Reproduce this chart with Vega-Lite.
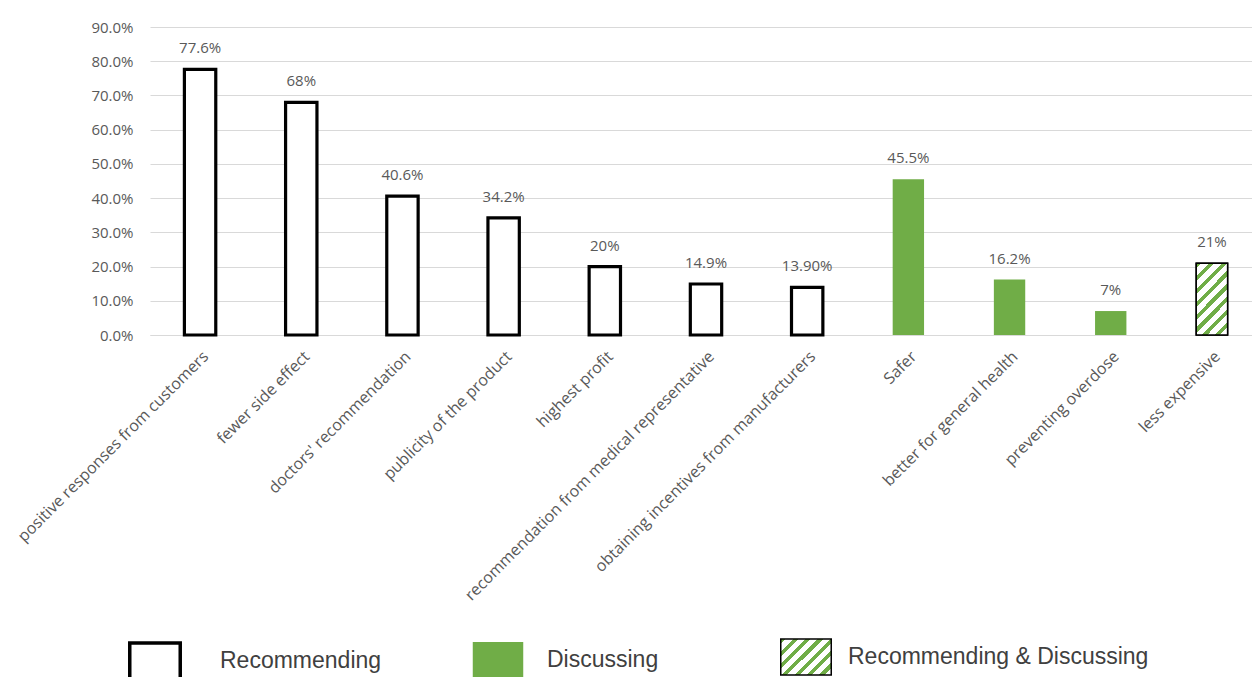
{
  "$schema": "https://vega.github.io/schema/vega-lite/v6.json",
  "width": 1112,
  "height": 308,
  "autosize": {"type": "none"},
  "padding": {"left": 150, "top": 27, "right": -10, "bottom": 342},
  "background": "white",
  "config": {"view": {"stroke": null}, "font": "Open Sans", "legend": {"labelFont": "Liberation Sans", "labelFontSize": 23, "labelColor": "#404040", "labelLimit": 500, "title": null, "symbolSize": 1300, "symbolOpacity": 1, "orient": "none"}},
  "data": {
    "values": [
      {"factor": "positive responses from customers", "pct": 0.776, "label": "77.6%", "type": "Recommending"},
      {"factor": "fewer side effect", "pct": 0.68, "label": "68%", "type": "Recommending"},
      {"factor": "doctors' recommendation", "pct": 0.406, "label": "40.6%", "type": "Recommending"},
      {"factor": "publicity of the product", "pct": 0.342, "label": "34.2%", "type": "Recommending"},
      {"factor": "highest profit", "pct": 0.20, "label": "20%", "type": "Recommending"},
      {"factor": "recommendation from medical representative", "pct": 0.149, "label": "14.9%", "type": "Recommending"},
      {"factor": "obtaining incentives from manufacturers", "pct": 0.139, "label": "13.90%", "type": "Recommending"},
      {"factor": "Safer", "pct": 0.455, "label": "45.5%", "type": "Discussing"},
      {"factor": "better for general health", "pct": 0.162, "label": "16.2%", "type": "Discussing"},
      {"factor": "preventing overdose", "pct": 0.07, "label": "7%", "type": "Discussing"},
      {"factor": "less expensive", "pct": 0.21, "label": "21%", "type": "Recommending & Discussing"}
    ]
  },
  "encoding": {
    "x": {
      "field": "factor", "type": "nominal", "sort": null,
      "scale": {"paddingInner": 0.69, "paddingOuter": 0.34},
      "axis": {"title": null, "labelAngle": -45, "labelFontSize": 16, "labelColor": "#595959", "labelLimit": 600, "ticks": false, "tickSize": 0, "domainColor": "#d9d9d9", "domainWidth": 1, "labelPadding": 13}
    },
    "y": {
      "field": "pct", "type": "quantitative",
      "scale": {"domain": [0, 0.9], "nice": false},
      "axis": {"title": null, "values": [0, 0.1, 0.2, 0.3, 0.4, 0.5, 0.6, 0.7, 0.8, 0.9], "format": ".1%", "labelFontSize": 15, "labelColor": "#595959", "ticks": false, "tickSize": 0, "domain": false, "gridColor": "#d9d9d9", "gridWidth": 1, "labelPadding": 17}
    }
  },
  "layer": [
    {
      "mark": {"type": "bar"},
      "encoding": {
        "fill": {
          "field": "type", "type": "nominal",
          "scale": {"domain": ["Recommending", "Discussing", "Recommending & Discussing"], "range": ["#ffffff", "#70AD47", "#ffffff"]},
          "legend": null
        },
        "stroke": {"condition": {"test": "datum.type === 'Discussing'", "value": "#70AD47"}, "value": "#000000"},
        "strokeWidth": {"condition": [{"test": "datum.type === 'Recommending'", "value": 3.2}, {"test": "datum.type === 'Discussing'", "value": 0}], "value": 1.5}
      }
    },
    {
      "transform": [{"filter": "datum.type === 'Recommending & Discussing'"}],
      "mark": {
        "type": "bar", "stroke": "#000000", "strokeWidth": 1.5,
        "fill": {"gradient": "linear", "x1": 0, "y1": 0, "x2": 0.53, "y2": 1.206, "stops": [
          {"offset": 0, "color": "#70AD47"}, {"offset": 0.05, "color": "#70AD47"}, {"offset": 0.05, "color": "#ffffff"}, {"offset": 0.125, "color": "#ffffff"},
          {"offset": 0.125, "color": "#70AD47"}, {"offset": 0.175, "color": "#70AD47"}, {"offset": 0.175, "color": "#ffffff"}, {"offset": 0.25, "color": "#ffffff"},
          {"offset": 0.25, "color": "#70AD47"}, {"offset": 0.3, "color": "#70AD47"}, {"offset": 0.3, "color": "#ffffff"}, {"offset": 0.375, "color": "#ffffff"},
          {"offset": 0.375, "color": "#70AD47"}, {"offset": 0.425, "color": "#70AD47"}, {"offset": 0.425, "color": "#ffffff"}, {"offset": 0.5, "color": "#ffffff"},
          {"offset": 0.5, "color": "#70AD47"}, {"offset": 0.55, "color": "#70AD47"}, {"offset": 0.55, "color": "#ffffff"}, {"offset": 0.625, "color": "#ffffff"},
          {"offset": 0.625, "color": "#70AD47"}, {"offset": 0.675, "color": "#70AD47"}, {"offset": 0.675, "color": "#ffffff"}, {"offset": 0.75, "color": "#ffffff"},
          {"offset": 0.75, "color": "#70AD47"}, {"offset": 0.8, "color": "#70AD47"}, {"offset": 0.8, "color": "#ffffff"}, {"offset": 0.875, "color": "#ffffff"},
          {"offset": 0.875, "color": "#70AD47"}, {"offset": 0.925, "color": "#70AD47"}, {"offset": 0.925, "color": "#ffffff"}, {"offset": 1, "color": "#ffffff"}
        ]}
      }
    },
    {
      "mark": {"type": "text", "baseline": "alphabetic", "dy": -16, "fontSize": 15, "color": "#595959"},
      "encoding": {"text": {"field": "label", "type": "nominal"}}
    },
    {
      "transform": [{"filter": "datum.type === 'Recommending'"}],
      "mark": {"type": "point", "filled": false, "stroke": "#000000", "strokeWidth": 3.5, "size": 0},
      "encoding": {
        "shape": {
          "field": "type", "type": "nominal",
          "scale": {"domain": ["Recommending"], "range": ["M-1.4,-1L1.4,-1L1.4,1L-1.4,1Z"]},
          "legend": {"legendX": -15, "legendY": 614, "labelOffset": 45, "symbolStrokeWidth": 3.5}
        }
      }
    },
    {
      "transform": [{"filter": "datum.type === 'Discussing'"}],
      "mark": {"type": "point", "filled": true, "shape": "M-1.4,-1L1.4,-1L1.4,1L-1.4,1Z", "fill": "#70AD47", "stroke": "#70AD47", "strokeWidth": 1, "size": 0},
      "encoding": {
        "strokeDash": {
          "field": "type", "type": "nominal",
          "scale": {"domain": ["Discussing"], "range": [[1, 0]]},
          "legend": {"legendX": 329, "legendY": 614, "labelOffset": 30, "symbolType": "M-1.4,-1L1.4,-1L1.4,1L-1.4,1Z", "symbolFillColor": "#70AD47", "symbolStrokeColor": "#70AD47", "symbolStrokeWidth": 1}
        }
      }
    },
    {
      "transform": [{"filter": "datum.type === 'Recommending & Discussing'"}],
      "mark": {
        "type": "point", "filled": true, "shape": "M-1.4,-1L1.4,-1L1.4,1L-1.4,1Z", "strokeWidth": 1.5, "size": 0,
        "fill": {"gradient": "linear", "x1": 0, "y1": 0, "x2": 1.133, "y2": 0.816, "stops": [
          {"offset": 0, "color": "#70AD47"}, {"offset": 0.06, "color": "#70AD47"}, {"offset": 0.06, "color": "#ffffff"}, {"offset": 0.1429, "color": "#ffffff"},
          {"offset": 0.1429, "color": "#70AD47"}, {"offset": 0.2029, "color": "#70AD47"}, {"offset": 0.2029, "color": "#ffffff"}, {"offset": 0.2857, "color": "#ffffff"},
          {"offset": 0.2857, "color": "#70AD47"}, {"offset": 0.3457, "color": "#70AD47"}, {"offset": 0.3457, "color": "#ffffff"}, {"offset": 0.4286, "color": "#ffffff"},
          {"offset": 0.4286, "color": "#70AD47"}, {"offset": 0.4886, "color": "#70AD47"}, {"offset": 0.4886, "color": "#ffffff"}, {"offset": 0.5714, "color": "#ffffff"},
          {"offset": 0.5714, "color": "#70AD47"}, {"offset": 0.6314, "color": "#70AD47"}, {"offset": 0.6314, "color": "#ffffff"}, {"offset": 0.7143, "color": "#ffffff"},
          {"offset": 0.7143, "color": "#70AD47"}, {"offset": 0.7743, "color": "#70AD47"}, {"offset": 0.7743, "color": "#ffffff"}, {"offset": 0.8571, "color": "#ffffff"},
          {"offset": 0.8571, "color": "#70AD47"}, {"offset": 0.9171, "color": "#70AD47"}, {"offset": 0.9171, "color": "#ffffff"}, {"offset": 1, "color": "#ffffff"}
        ]}
      },
      "encoding": {
        "stroke": {
          "field": "type", "type": "nominal",
          "scale": {"domain": ["Recommending & Discussing"], "range": ["#000000"]},
          "legend": {"legendX": 637, "legendY": 611, "labelOffset": 23, "symbolType": "M-1.4,-1L1.4,-1L1.4,1L-1.4,1Z", "symbolStrokeWidth": 1.5}
        }
      }
    }
  ]
}
